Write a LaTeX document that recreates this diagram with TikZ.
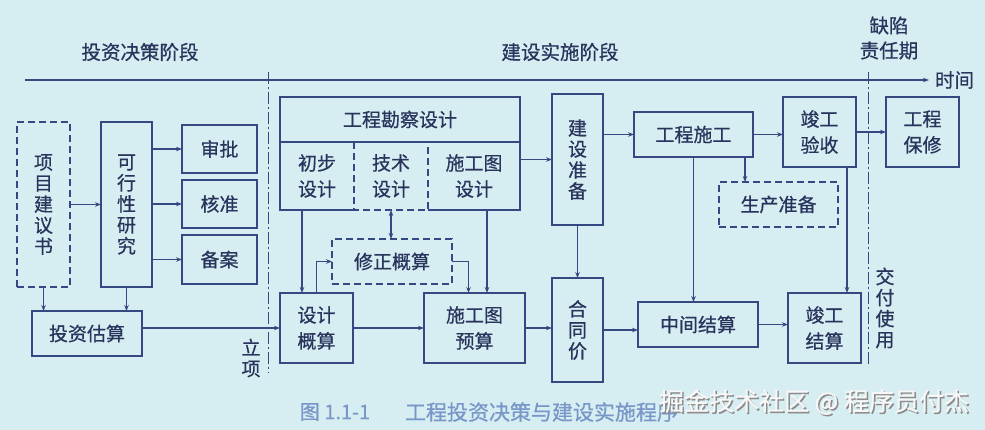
\documentclass[tikz,border=0pt]{standalone}
\usepackage{fontspec}
\setmainfont{Noto Sans CJK SC}[FakeBold=0.6]
\usetikzlibrary{arrows.meta}
\definecolor{bgblue}{RGB}{214,237,241}
\definecolor{ink}{RGB}{52,72,130}
\definecolor{txt}{RGB}{40,52,92}
\definecolor{capblue}{RGB}{120,150,200}
\begin{document}
\begin{tikzpicture}[x=1pt, y=-1pt,
  every node/.style={inner sep=0pt, outer sep=0pt, text=txt, font=\fontsize{19}{26}\selectfont},
  line/.style={draw=ink, line width=1.1pt},
  arr/.style={line, -{Stealth[length=6pt,width=4.5pt]}},
  arrboth/.style={line, {Stealth[length=6pt,width=4.5pt]}-{Stealth[length=6pt,width=4.5pt]}},
  box/.style={line, align=center},
  dbox/.style={box, dash pattern=on 7pt off 4pt},
  cell/.style={align=center},
  vtext/.style={align=center, font=\fontsize{19}{21}\selectfont},
  stage/.style={font=\fontsize{19.5}{25}\selectfont, align=center},
  phase/.style={draw=ink, line width=0.9pt, dash pattern=on 12pt off 3pt on 2pt off 3pt}]
  \fill[bgblue] (0,0) rectangle (985,430);
  \useasboundingbox (0,0) rectangle (985,430);
  % stages and time axis
  \node[stage] (decide) at (140,52) {投资决策阶段};
  \node[stage] (build) at (560,52) {建设实施阶段};
  \node[stage] (defect) at (889,38) {缺陷\\责任期};
  \coordinate (t0) at (25,80);
  \coordinate (t1) at (929,80);
  \draw[arr] (t0) -- (t1);
  \node[stage, anchor=west] (time) at (935,80) {时间};
  \coordinate (p1a) at (268,72);
  \coordinate (p1b) at (268,373);
  \coordinate (p2a) at (868,72);
  \coordinate (p2b) at (868,367);
  \draw[phase] (p1a) -- (p1b);
  \draw[phase] (p2a) -- (p2b);
  \node[vtext] (lixiang) at (251,358) {立\\项};
  \node[vtext] (jiaofu) at (885,308) {交\\付\\使\\用};
  % decision stage
  \node[dbox, vtext, minimum width=53pt, minimum height=165pt] (xmjys) at (43.5,204.5) {项\\目\\建\\议\\书};
  \node[box, vtext, minimum width=51pt, minimum height=165pt] (kxx) at (126.5,204.5) {可\\行\\性\\研\\究};
  \node[box, minimum width=75pt, minimum height=48pt] (sp) at (219.5,149) {审批};
  \node[box, minimum width=75pt, minimum height=48pt] (hz) at (219.5,204) {核准};
  \node[box, minimum width=75pt, minimum height=49pt] (ba) at (219.5,259.5) {备案};
  \node[box, minimum width=110pt, minimum height=45pt] (tzgs) at (87,333.5) {投资估算};
  \draw[arr] (xmjys.east) -- (kxx.west);
  \draw[arr] (sp.west -| kxx.east) -- (sp.west);
  \draw[arr] (hz.west -| kxx.east) -- (hz.west);
  \draw[arr] (ba.west -| kxx.east) -- (ba.west);
  \draw[arr] (xmjys.south) -- (xmjys.south |- tzgs.north);
  \draw[arr] (kxx.south) -- (kxx.south |- tzgs.north);
  % survey and design
  \node[box, minimum width=240pt, minimum height=45pt] (kc) at (400,119.5) {工程勘察设计};
  \node[cell, minimum width=74pt, minimum height=68pt] (cb) at (317,176) {初步\\设计};
  \node[cell, minimum width=74pt, minimum height=68pt] (js) at (391,176) {技术\\设计};
  \node[cell, minimum width=92pt, minimum height=68pt] (sg) at (474,176) {施工图\\设计};
  \draw[line] (cb.north west) -- (cb.south west) -- (cb.south east);
  \draw[line] (sg.north east) -- (sg.south east) -- (sg.south west);
  \draw[line, dash pattern=on 7pt off 4pt] (js.north west) -- (js.south west) -- (js.south east) -- (js.north east);
  \node[dbox, minimum width=120pt, minimum height=45pt] (xzgs) at (392,261.5) {修正概算};
  \node[box, minimum width=73pt, minimum height=70pt] (sjgs) at (316.5,328) {设计\\概算};
  \node[box, minimum width=101pt, minimum height=70pt] (sgys) at (474.5,328) {施工图\\预算};
  \draw[arr] (sjgs.west -| tzgs.east) -- (sjgs.west);
  \draw[arr] ([xshift=-15pt]cb.south) -- ([xshift=-15pt]cb.south |- sjgs.north);
  \draw[arrboth] (js.south) -- (js.south |- xzgs.north);
  \draw[arr] (sjgs.north) |- (xzgs.west);
  \draw[arr] (xzgs.east) -| ([xshift=-6pt]sgys.north);
  \draw[arr] ([xshift=13pt]sg.south) -- ([xshift=13pt]sg.south |- sgys.north);
  \draw[arr] (sjgs.east) -- (sgys.west);
  % construction
  \node[box, vtext, minimum width=51pt, minimum height=131pt] (jszb) at (577.5,159.5) {建\\设\\准\\备};
  \node[box, vtext, minimum width=51pt, minimum height=104pt] (htj) at (577.5,330) {合\\同\\价};
  \node[box, minimum width=119pt, minimum height=45pt] (gcsg) at (693.5,134.5) {工程施工};
  \node[box, minimum width=73pt, minimum height=70pt] (jgys) at (819.5,132) {竣工\\验收};
  \node[box, minimum width=73pt, minimum height=70pt] (gcbx) at (922.5,132) {工程\\保修};
  \node[dbox, minimum width=119pt, minimum height=45pt] (sczb) at (778.5,204.5) {生产准备};
  \node[box, minimum width=120pt, minimum height=45pt] (zjjs) at (698,324.5) {中间结算};
  \node[box, minimum width=73pt, minimum height=70pt] (jgjs) at (824.5,328) {竣工\\结算};
  \draw[arr] (jszb.west -| sg.east) -- (jszb.west);
  \draw[arr] (sgys.east) -- (sgys.east -| htj.west);
  \draw[arr] (jszb.south) -- (htj.north);
  \draw[arr] (gcsg.west -| jszb.east) -- (gcsg.west);
  \draw[arr] (htj.east) -- (htj.east -| zjjs.west);
  \draw[arr] (gcsg.east) -- (gcsg.east -| jgys.west);
  \draw[arr] (jgys.east) -- (gcbx.west);
  \draw[arr] ([xshift=-8pt]gcsg.south east) -- ([xshift=-8pt]gcsg.south east |- sczb.north);
  \draw[arr] (gcsg.south) -- (gcsg.south |- zjjs.north);
  \draw[arr] (zjjs.east) -- (zjjs.east -| jgjs.west);
  \draw[arr] ([xshift=-9pt]jgys.south east) -- ([xshift=-9pt]jgys.south east |- jgjs.north);
  % caption and watermark
  \node[text=capblue, font=\fontsize{20}{24}\selectfont] (capnum) at (335,412) {图 1.1-1};
  \node[text=capblue, font=\fontsize{21}{24}\selectfont, anchor=west] (captext) at (405,412) {工程投资决策与建设实施程序};
  \node[text=black!45, font=\fontsize{25}{28}\selectfont] (markshadow) at (815.5,403.5) {掘金技术社区 @ 程序员付杰};
  \node[text=white!94!gray, font=\fontsize{25}{28}\selectfont] (mark) at (814,402) {掘金技术社区 @ 程序员付杰};
\end{tikzpicture}
\end{document}
